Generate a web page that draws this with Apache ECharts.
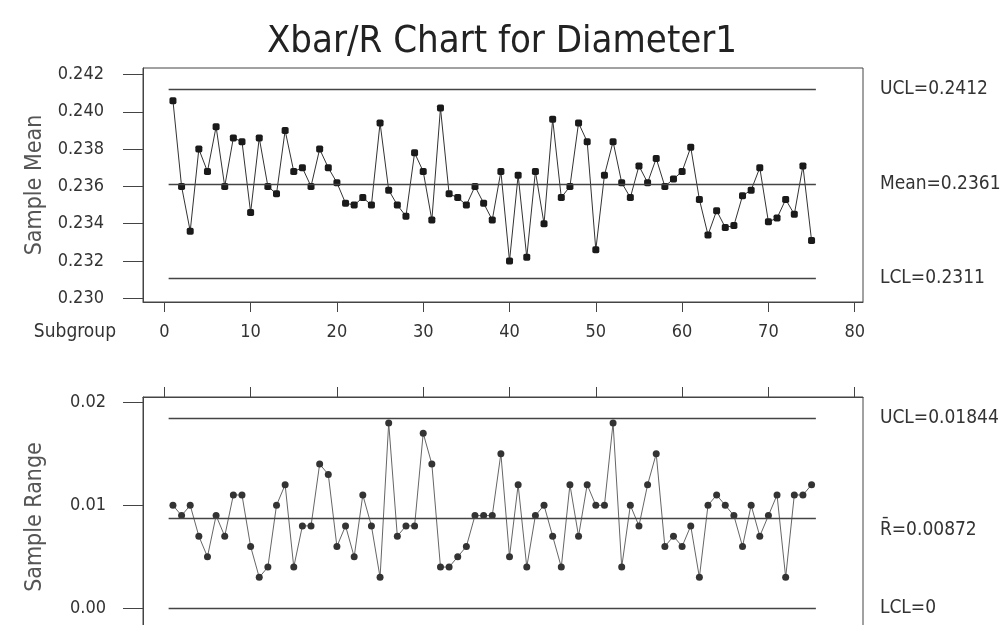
<!DOCTYPE html>
<html>
<head>
<meta charset="utf-8">
<title>Xbar/R Chart for Diameter1</title>
<script src="https://cdn.jsdelivr.net/npm/echarts@6/dist/echarts.min.js"></script>
<style>
  html, body { margin: 0; padding: 0; background: #fff; }
  #chart { width: 1004px; height: 625px; }
</style>
</head>
<body>
<div id="chart"></div>
<script>
// 子组均值 (Subgroup 1..75)
const sampleMeans = [
  0.2406, 0.2360, 0.2336, 0.2380, 0.2368, 0.2392, 0.2360, 0.2386, 0.2384, 0.2346,
  0.2386, 0.2360, 0.2356, 0.2390, 0.2368, 0.2370, 0.2360, 0.2380, 0.2370, 0.2362,
  0.2351, 0.2350, 0.2354, 0.2350, 0.2394, 0.2358, 0.2350, 0.2344, 0.2378, 0.2368,
  0.2342, 0.2402, 0.2356, 0.2354, 0.2350, 0.2360, 0.2351, 0.2342, 0.2368, 0.2320,
  0.2366, 0.2322, 0.2368, 0.2340, 0.2396, 0.2354, 0.2360, 0.2394, 0.2384, 0.2326,
  0.2366, 0.2384, 0.2362, 0.2354, 0.2371, 0.2362, 0.2375, 0.2360, 0.2364, 0.2368,
  0.2381, 0.2353, 0.2334, 0.2347, 0.2338, 0.2339, 0.2355, 0.2358, 0.2370, 0.2341,
  0.2343, 0.2353, 0.2345, 0.2371, 0.2331
];

// 子组极差
const sampleRanges = [
  0.010, 0.009, 0.010, 0.007, 0.005, 0.009, 0.007, 0.011, 0.011, 0.006,
  0.003, 0.004, 0.010, 0.012, 0.004, 0.008, 0.008, 0.014, 0.013, 0.006,
  0.008, 0.005, 0.011, 0.008, 0.003, 0.018, 0.007, 0.008, 0.008, 0.017,
  0.014, 0.004, 0.004, 0.005, 0.006, 0.009, 0.009, 0.009, 0.015, 0.005,
  0.012, 0.004, 0.009, 0.010, 0.007, 0.004, 0.012, 0.007, 0.012, 0.010,
  0.010, 0.018, 0.004, 0.010, 0.008, 0.012, 0.015, 0.006, 0.007, 0.006,
  0.008, 0.003, 0.010, 0.011, 0.010, 0.009, 0.006, 0.010, 0.007, 0.009,
  0.011, 0.003, 0.011, 0.011, 0.012
];

// 控制限
const meanLimitValues = [0.2412, 0.2361, 0.2311];
const meanLimitLabels = ['UCL=0.2412', 'Mean=0.2361', 'LCL=0.2311'];
const rangeLimitValues = [0.01844, 0.00872, 0];
const rangeLimitLabels = ['UCL=0.01844', 'R\u0304=0.00872', 'LCL=0'];

// 刻度
const subgroupTicks = [0, 10, 20, 30, 40, 50, 60, 70, 80];
const meanTicks = [0.230, 0.232, 0.234, 0.236, 0.238, 0.240, 0.242];
const rangeTicks = [0, 0.01, 0.02];

const FONT = "'DejaVu Sans Condensed', 'DejaVu Sans', sans-serif";
const AXIS_COLOR = '#444';
const LINE_START = 0.5;
const LINE_END = 75.5;

const chart = echarts.init(document.getElementById('chart'));

// 控制限线; R̄ 标签在 Minitab 里比中心线略低
function limitLines(values, labels, lowIndex) {
  return values.map((v, i) => [
    { coord: [LINE_START, v], name: (i === lowIndex ? '\n\n' : '') + labels[i] },
    { coord: [LINE_END, v] }
  ]);
}

function xAxisBase(gridIndex) {
  return {
    type: 'value',
    gridIndex: gridIndex,
    min: -2.47,
    max: 80.96,
    splitLine: { show: false },
    axisLine: { show: true, onZero: false, lineStyle: { color: AXIS_COLOR, width: 1 } },
    axisTick: { customValues: subgroupTicks, length: 10, lineStyle: { color: AXIS_COLOR } }
  };
}

function yAxisBase(gridIndex, name, ticks, min, max, margin, digits) {
  return {
    type: 'value',
    gridIndex: gridIndex,
    min: min,
    max: max,
    name: name,
    nameLocation: 'middle',
    nameRotate: 90,
    nameGap: 96,
    nameTextStyle: { fontFamily: FONT, fontSize: 23, color: '#555' },
    splitLine: { show: false },
    axisLine: { show: true, onZero: false, lineStyle: { color: AXIS_COLOR } },
    axisTick: { customValues: ticks, length: 20, lineStyle: { color: AXIS_COLOR } },
    axisLabel: {
      customValues: ticks, margin: margin, fontSize: 18, color: '#333', fontFamily: FONT,
      formatter: v => v.toFixed(digits)
    }
  };
}

const option = {
  backgroundColor: '#fff',
  animation: false,
  textStyle: { fontFamily: FONT },
  title: {
    text: 'Xbar/R Chart for Diameter1',
    left: 'center',
    top: 18,
    textStyle: { fontFamily: FONT, fontSize: 38, fontWeight: 'normal', color: '#222' }
  },
  graphic: [{
    type: 'text',
    x: 116,
    y: 332,
    style: {
      text: 'Subgroup',
      fill: '#333',
      font: '19px ' + FONT,
      align: 'right',
      verticalAlign: 'middle'
    }
  }],
  grid: [
    { left: 143, top: 68, width: 720, height: 234, show: true, borderColor: AXIS_COLOR, borderWidth: 1, outerBoundsMode: 'none', containLabel: false },
    { left: 143, top: 397, width: 720, height: 240, show: true, borderColor: AXIS_COLOR, borderWidth: 1, outerBoundsMode: 'none', containLabel: false }
  ],
  xAxis: [
    Object.assign(xAxisBase(0), {
      position: 'bottom',
      axisLabel: { customValues: subgroupTicks, margin: 21, fontSize: 18, color: '#333', fontFamily: FONT }
    }),
    Object.assign(xAxisBase(1), {
      position: 'top',
      axisLabel: { show: false }
    })
  ],
  yAxis: [
    yAxisBase(0, 'Sample Mean', meanTicks, 0.2298, 0.24235, 39, 3),
    yAxisBase(1, 'Sample Range', rangeTicks, -0.00279, 0.020515, 37, 2)
  ],
  series: [
    {
      name: 'Sample Mean',
      type: 'line',
      xAxisIndex: 0,
      yAxisIndex: 0,
      data: sampleMeans.map((v, i) => [i + 1, v]),
      symbol: 'roundRect',
      symbolSize: 7,
      lineStyle: { color: '#333', width: 1 },
      itemStyle: { color: '#1a1a1a' },
      emphasis: { disabled: true },
      markLine: {
        silent: true,
        symbol: 'none',
        lineStyle: { color: '#444', width: 1.3, type: 'solid' },
        label: { position: 'end', distance: 64, formatter: '{b}', fontSize: 19, color: '#333', fontFamily: FONT },
        data: limitLines(meanLimitValues, meanLimitLabels, -1)
      }
    },
    {
      name: 'Sample Range',
      type: 'line',
      xAxisIndex: 1,
      yAxisIndex: 1,
      data: sampleRanges.map((v, i) => [i + 1, v]),
      symbol: 'circle',
      symbolSize: 7,
      lineStyle: { color: '#666', width: 1 },
      itemStyle: { color: '#333' },
      emphasis: { disabled: true },
      markLine: {
        silent: true,
        symbol: 'none',
        lineStyle: { color: '#444', width: 1.3, type: 'solid' },
        label: { position: 'end', distance: 64, formatter: '{b}', fontSize: 19, lineHeight: 12, color: '#333', fontFamily: FONT },
        data: limitLines(rangeLimitValues, rangeLimitLabels, 1)
      }
    }
  ]
};

chart.setOption(option);
window.addEventListener('resize', () => chart.resize());
</script>
</body>
</html>
